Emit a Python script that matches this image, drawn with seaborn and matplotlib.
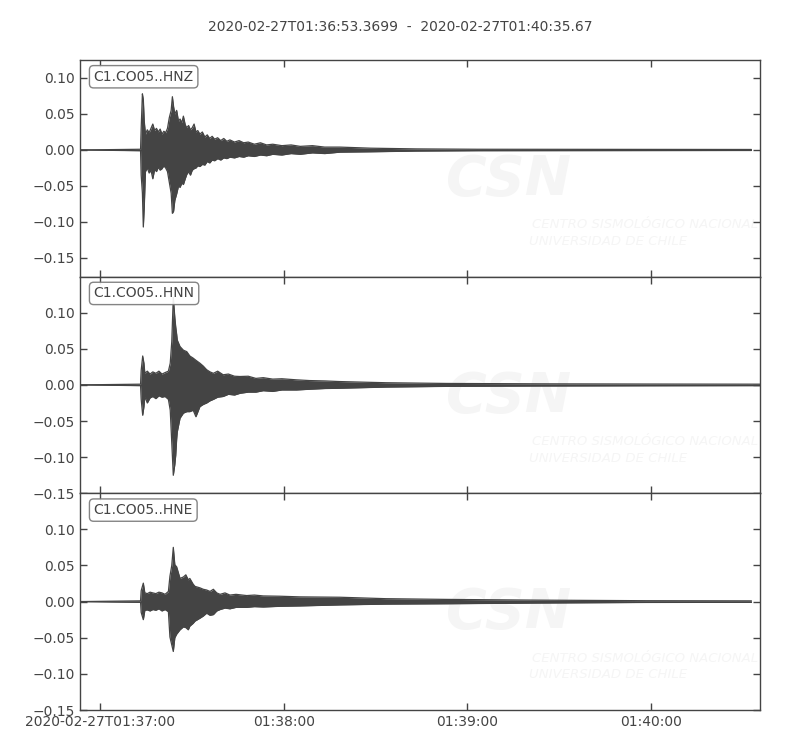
import numpy as np
import pandas as pd
import matplotlib
matplotlib.use("Agg")
import matplotlib.pyplot as plt
import matplotlib.ticker as mticker
import seaborn as sns

#__________________________________________________________________________
# Trace info
start = pd.Timestamp("2020-02-27 01:36:53.3699")
end = pd.Timestamp("2020-02-27 01:40:35.67")
title = "2020-02-27T01:36:53.3699  -  2020-02-27T01:40:35.67"
channels = ["C1.CO05..HNZ", "C1.CO05..HNN", "C1.CO05..HNE"]

# envelope of each trace (seconds after start, max, min)
hnz_t = [0, 19.8, 20.0, 20.4, 20.7, 21.0, 21.4, 22.0, 22.6, 23.2, 23.8, 24.4, 25.0, 25.6, 26.2,
         26.8, 27.4, 28.0, 28.6, 29.2, 29.8, 30.2, 30.6, 31.0, 31.6, 32.2, 32.7, 33.3, 33.8, 34.4,
         34.9, 35.5, 36.1, 36.7, 37.3, 37.9, 38.5, 39.2, 40.0, 40.8, 41.6, 42.4, 43.2, 44.0, 45.0,
         46.0, 47.0, 48.0, 49.0, 50.5, 52.0, 53.5, 55.0, 57.0, 59.0, 61.0, 63.0, 66.0, 69.0, 72.0,
         76.0, 80.0, 85.0, 95.0, 110.0, 130.0, 219.5]
hnz_hi = [0, 0.001, 0.030, 0.078, 0.070, 0.040, 0.022, 0.028, 0.024, 0.030, 0.036, 0.027, 0.030,
          0.025, 0.029, 0.022, 0.026, 0.024, 0.030, 0.045, 0.055, 0.074, 0.060, 0.050, 0.055, 0.040,
          0.043, 0.038, 0.047, 0.035, 0.031, 0.034, 0.028, 0.031, 0.036, 0.025, 0.027, 0.022, 0.025,
          0.018, 0.021, 0.016, 0.019, 0.015, 0.017, 0.013, 0.016, 0.012, 0.014, 0.011, 0.013, 0.010,
          0.011, 0.008, 0.010, 0.007, 0.008, 0.006, 0.007, 0.005, 0.006, 0.004, 0.004, 0.0025,
          0.0015, 0.001, 0.0007]
hnz_lo = [0, -0.001, -0.035, -0.060, -0.107, -0.080, -0.030, -0.025, -0.032, -0.028, -0.040, -0.027,
          -0.030, -0.024, -0.028, -0.026, -0.022, -0.025, -0.030, -0.045, -0.060, -0.088, -0.085,
          -0.070, -0.061, -0.050, -0.052, -0.046, -0.048, -0.040, -0.034, -0.030, -0.035, -0.028,
          -0.026, -0.025, -0.022, -0.023, -0.020, -0.021, -0.016, -0.018, -0.014, -0.015, -0.012,
          -0.014, -0.011, -0.012, -0.010, -0.011, -0.009, -0.010, -0.008, -0.009, -0.007, -0.008,
          -0.006, -0.007, -0.005, -0.006, -0.004, -0.005, -0.003, -0.0025, -0.0015, -0.001, -0.0007]

hnn_t = [0, 19.8, 20.0, 20.5, 20.9, 21.2, 22.0, 22.9, 23.8, 24.8, 25.8, 26.8, 27.8, 28.9, 29.5,
         30.0, 30.5, 31.0, 31.3, 31.6, 31.8, 32.7, 33.8, 34.9, 35.9, 37.0, 37.9, 39.2, 40.3, 41.4,
         42.5, 43.6, 45.0, 46.8, 48.5, 50.5, 52.3, 55.0, 57.5, 59.9, 63.0, 66.0, 70.8, 75.0, 80.0,
         85.0, 100.0, 120.0, 150.0, 185.0, 222.3]
hnn_hi = [0, 0.001, 0.020, 0.040, 0.030, 0.016, 0.019, 0.015, 0.018, 0.016, 0.019, 0.015, 0.017, 0.019,
          0.030, 0.060, 0.121, 0.093, 0.080, 0.070, 0.062, 0.053, 0.048, 0.046, 0.040, 0.037, 0.034,
          0.030, 0.026, 0.021, 0.018, 0.016, 0.019, 0.014, 0.015, 0.012, 0.0116, 0.012, 0.009, 0.010,
          0.008, 0.0085, 0.007, 0.006, 0.0055, 0.0046, 0.003, 0.002, 0.0015, 0.0012, 0.001]
hnn_lo = [0, -0.001, -0.020, -0.042, -0.030, -0.016, -0.025, -0.018, -0.016, -0.019, -0.015, -0.017,
          -0.016, -0.020, -0.035, -0.080, -0.125, -0.110, -0.097, -0.075, -0.065, -0.046, -0.039,
          -0.037, -0.037, -0.035, -0.044, -0.030, -0.027, -0.025, -0.022, -0.020, -0.017, -0.016,
          -0.013, -0.014, -0.0116, -0.010, -0.010, -0.008, -0.009, -0.007, -0.007, -0.006, -0.005,
          -0.0046, -0.003, -0.002, -0.0015, -0.0012, -0.001]

hne_t = [0, 19.8, 20.0, 20.7, 21.2, 22.0, 22.9, 23.8, 24.8, 25.8, 26.8, 27.8, 28.9, 29.4, 30.0,
         30.5, 31.0, 31.6, 32.7, 33.8, 34.6, 35.4, 35.9, 37.0, 37.6, 39.2, 40.3, 41.4, 42.5, 43.6,
         44.7, 45.8, 47.4, 49.0, 51.0, 54.5, 57.0, 59.9, 65.4, 72.0, 85.0, 100.0, 120.0, 150.0,
         185.0, 219.5]
hne_hi = [0, 0.001, 0.015, 0.0255, 0.012, 0.011, 0.013, 0.012, 0.011, 0.013, 0.012, 0.010, 0.014,
          0.035, 0.050, 0.075, 0.051, 0.048, 0.032, 0.034, 0.037, 0.030, 0.032, 0.024, 0.021, 0.019,
          0.017, 0.016, 0.014, 0.017, 0.012, 0.010, 0.012, 0.009, 0.010, 0.0083, 0.009, 0.0078,
          0.0074, 0.0065, 0.006, 0.004, 0.003, 0.002, 0.0012, 0.001]
hne_lo = [0, -0.001, -0.015, -0.025, -0.012, -0.0115, -0.013, -0.011, -0.012, -0.010, -0.013, -0.011,
          -0.014, -0.049, -0.060, -0.069, -0.050, -0.045, -0.039, -0.035, -0.036, -0.039, -0.034,
          -0.030, -0.027, -0.023, -0.020, -0.016, -0.019, -0.018, -0.013, -0.011, -0.009, -0.010,
          -0.008, -0.008, -0.007, -0.0075, -0.0065, -0.006, -0.0046, -0.0035, -0.003, -0.002,
          -0.0012, -0.001]

ylims = [(-0.176, 0.125), (-0.15, 0.1497), (-0.15, 0.1497)]

tick_times = ["2020-02-27 01:37:00", "2020-02-27 01:38:00", "2020-02-27 01:39:00", "2020-02-27 01:40:00"]
tick_labels = ["2020-02-27T01:37:00", "01:38:00", "01:39:00", "01:40:00"]

grey = "#444444"
mark = "#f5f5f5"

#__________________________________________________________________________
# Style
sns.set_theme(style="white")
plt.rcParams["font.family"] = ["DejaVu Sans"]
plt.rcParams.update({
    "axes.edgecolor": grey,
    "axes.linewidth": 1.0,
    "xtick.color": grey,
    "ytick.color": grey,
    "xtick.labelcolor": grey,
    "ytick.labelcolor": grey,
    "xtick.labelsize": 10,
    "ytick.labelsize": 10,
    "text.color": grey,
})


def fmt_amp(v, pos):
    s = f"{v:.2f}"
    if s == "-0.00":
        s = "0.00"
    return s.replace("-", "\u2212")


traces = [(hnz_t, hnz_hi, hnz_lo), (hnn_t, hnn_hi, hnn_lo), (hne_t, hne_hi, hne_lo)]

fig, axes = plt.subplots(3, 1, figsize=(8, 7.5), dpi=100, sharex=True)
fig.subplots_adjust(left=0.1, right=0.95, top=0.92, bottom=0.0533, hspace=0)

for ax, (t, hi, lo), name, ylim in zip(axes, traces, channels, ylims):
    df = pd.DataFrame({"time": start + pd.to_timedelta(t, unit="s"), "hi": hi, "lo": lo})

    # faint CSN watermark
    ax.text(0.63, 0.446, "CSN", transform=ax.transAxes, ha="center", va="center",
            fontsize=40, fontweight="bold", fontstyle="italic", color=mark, zorder=0)
    ax.text(0.665, 0.239, "CENTRO SISMOLÓGICO NACIONAL", transform=ax.transAxes, ha="left",
            va="center", fontsize=9.5, fontstyle="italic", color=mark, zorder=0)
    ax.text(0.660, 0.162, "UNIVERSIDAD DE CHILE", transform=ax.transAxes, ha="left",
            va="center", fontsize=9.5, fontstyle="italic", color=mark, zorder=0)

    ax.fill_between(df["time"], df["lo"], df["hi"], color=grey, lw=0, zorder=2)
    sns.lineplot(data=df, x="time", y="hi", estimator=None, sort=False, color=grey, lw=0.9, ax=ax, zorder=3)
    sns.lineplot(data=df, x="time", y="lo", estimator=None, sort=False, color=grey, lw=0.9, ax=ax, zorder=3)

    ax.set_xlim(start, end)
    ax.set_ylim(*ylim)
    ax.yaxis.set_major_locator(mticker.MultipleLocator(0.05))
    ax.yaxis.set_major_formatter(mticker.FuncFormatter(fmt_amp))
    ax.set_xlabel("")
    ax.set_ylabel("")
    ax.tick_params(direction="in", length=5, width=1, top=True, right=True, bottom=True, left=True)

    ax.text(0.02, 0.955, name, transform=ax.transAxes, ha="left", va="top", fontsize=10, color=grey,
            bbox=dict(boxstyle="round,pad=0.3", fc="white", ec="#777777", lw=1, alpha=0.9), zorder=5)

axes[-1].set_xticks(pd.to_datetime(tick_times))
axes[-1].set_xticklabels(tick_labels)

fig.suptitle(title, y=0.973, fontsize=10, color=grey)
fig.savefig("out.png", dpi=100)
